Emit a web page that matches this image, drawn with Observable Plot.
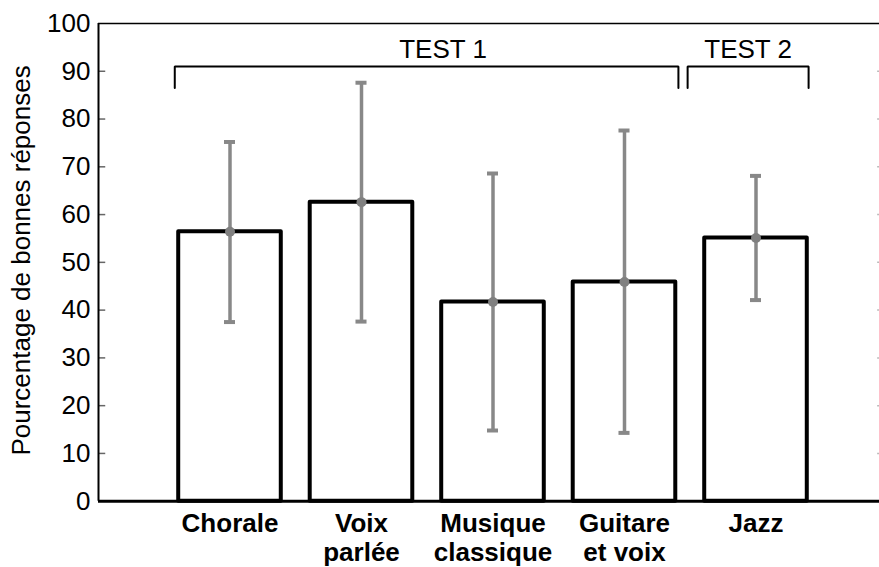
<!DOCTYPE html>
<html>
<head>
<meta charset="utf-8">
<script src="https://cdn.jsdelivr.net/npm/d3@7"></script>
<script src="https://cdn.jsdelivr.net/npm/@observablehq/plot@0.6"></script>
<style>
  html, body { margin: 0; padding: 0; background: #fff; }
  #chart svg { display: block; }
</style>
</head>
<body>
<div id="chart"></div>
<script>
// ---- data ----
const categories = ["Chorale", "Voix\nparlée", "Musique\nclassique", "Guitare\net voix", "Jazz"];
const means = [56.4, 62.6, 41.7, 45.9, 55.1];
const lower = [37.5, 37.6, 14.8, 14.3, 42.1];
const upper = [75.2, 87.6, 68.6, 77.6, 68.1];
const yTicks = [0, 10, 20, 30, 40, 50, 60, 70, 80, 90, 100];

// group brackets (TEST 1 covers the first four bars, TEST 2 the last)
const groupLabels = ["TEST 1", "TEST 2"];
const groupLabelX = [2.62, 4.94];
const bracketStart = [0.58, 4.48];
const bracketEnd = [4.41, 5.40];
const bracketTop = 91;
const bracketFoot = 86.5;
const groupLabelY = 94.5;

const rows = categories.map((c, i) => ({
  cat: c, pos: i + 1, mean: means[i], lo: lower[i], hi: upper[i]
}));
const brackets = groupLabels.map((g, i) => ({g, x1: bracketStart[i], x2: bracketEnd[i]}));
const bracketPts = brackets.flatMap(b => [
  {g: b.g, x: b.x1, y: bracketFoot},
  {g: b.g, x: b.x1, y: bracketTop},
  {g: b.g, x: b.x2, y: bracketTop},
  {g: b.g, x: b.x2, y: bracketFoot}
]);

const FONT = '"Liberation Sans", Arial, Helvetica, sans-serif';
const FS = 26;
const halfW = 0.39;
const capW = 0.042;
const errColor = "#888888";
const innerTicks = yTicks.filter(t => t > 0 && t < 100);

const chart = Plot.plot({
  width: 879,
  height: 567,
  marginLeft: 98,
  marginTop: 23,
  marginBottom: 66,
  marginRight: 0,
  style: {fontFamily: FONT, fontSize: FS + "px", color: "#000", background: "#fff", overflow: "visible"},
  x: {domain: [0, 6], range: [98, 887]},
  y: {domain: [0, 100], range: [500.7, 23]},
  marks: [
    // inward tick marks (left and right)
    Plot.ruleY(innerTicks, {y: d => d, x1: 0, x2: 0.055, stroke: "#666", strokeWidth: 1.5}),
    Plot.ruleY(innerTicks, {y: d => d, x1: 5.925, x2: 6, stroke: "#bbb", strokeWidth: 1.5}),
    // frame
    Plot.ruleY([100], {x1: 0, x2: 6, stroke: "#000", strokeWidth: 1.5}),
    Plot.ruleX([0], {y1: 0, y2: 100, stroke: "#000", strokeWidth: 2}),
    // bars
    Plot.rectY(rows, {
      x1: d => d.pos - halfW, x2: d => d.pos + halfW, y1: 0, y2: "mean",
      fill: "#fff", stroke: "#000", strokeWidth: 4, strokeLinejoin: "round"
    }),
    Plot.ruleY([0], {x1: 0, x2: 6, stroke: "#000", strokeWidth: 3}),
    // error bars
    Plot.ruleX(rows, {x: "pos", y1: "lo", y2: "hi", stroke: errColor, strokeWidth: 3.5}),
    Plot.ruleY(rows, {y: "hi", x1: d => d.pos - capW, x2: d => d.pos + capW, stroke: errColor, strokeWidth: 4}),
    Plot.ruleY(rows, {y: "lo", x1: d => d.pos - capW, x2: d => d.pos + capW, stroke: errColor, strokeWidth: 4}),
    Plot.dot(rows, {x: "pos", y: "mean", r: 5, fill: "#808080", stroke: "none"}),
    // group brackets
    Plot.line(bracketPts, {x: "x", y: "y", z: "g", stroke: "#000", strokeWidth: 2, strokeLinejoin: "miter"}),
    Plot.text(groupLabels, {
      x: (d, i) => groupLabelX[i], y: groupLabelY, text: d => d,
      fontSize: FS, fill: "#000", lineAnchor: "middle"
    }),
    // axes
    Plot.axisY({
      ticks: yTicks, tickSize: 0, tickPadding: 8, label: null,
      fontSize: FS, tickFormat: d => String(d)
    }),
    Plot.axisX({
      ticks: rows.map(d => d.pos), tickSize: 0, tickPadding: 11, label: null,
      tickFormat: (d) => categories[d - 1], fontSize: FS, fontWeight: "bold", lineHeight: 1.08
    }),
    Plot.text(["Pourcentage de bonnes réponses"], {
      frameAnchor: "left", dx: -69, y: 50.4, rotate: -90, text: d => d,
      fontSize: FS, fill: "#000", lineAnchor: "bottom", textAnchor: "middle"
    })
  ]
});
document.getElementById("chart").appendChild(chart);
</script>
</body>
</html>
